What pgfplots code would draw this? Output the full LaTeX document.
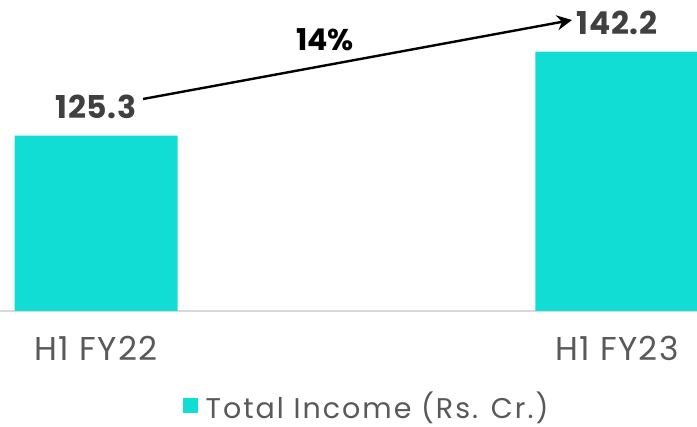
\documentclass[border=0pt]{standalone}
\usepackage{pgfplots}
\pgfplotsset{compat=1.18}
\usetikzlibrary{arrows.meta}
\usepackage{fontspec}
\setmainfont{Poppins}
\definecolor{barcyan}{RGB}{18,221,212}
\definecolor{txtgray}{RGB}{89,89,89}
\definecolor{numgray}{RGB}{64,64,64}
\definecolor{axgray}{RGB}{217,217,217}
\begin{document}
\begin{tikzpicture}
\begin{axis}[
  scale only axis,
  width=697pt, height=311pt,
  xmin=-0.1843, xmax=1.1536,
  ymin=90, ymax=152.58,
  ybar, bar width=163pt,
  axis x line*=bottom,
  hide y axis,
  x axis line style={draw=axgray, line width=1.8pt, -},
  xtick={0,1},
  xticklabels={H1 FY22, H1 FY23},
  major tick length=0pt,
  xticklabel style={font=\fontsize{33}{37}\selectfont\addfontfeatures{LetterSpace=4}, text=txtgray, anchor=base, yshift=-50pt},
  nodes near coords,
  nodes near coords style={font=\bfseries\fontsize{31.5}{35}\selectfont\addfontfeatures{LetterSpace=2}, text=numgray, anchor=base, yshift=17pt},
  point meta=explicit symbolic,
  legend style={at={(0.526,-0.305)}, anchor=center, draw=none, font=\fontsize{28.5}{32}\selectfont\addfontfeatures{LetterSpace=7}, text=txtgray, legend cell align=left, inner sep=0pt},
  legend image code/.code={\fill[barcyan] (0pt,-7.5pt) rectangle (15pt,7.5pt); \path (21pt,0pt);},
]
\addplot[fill=barcyan, draw=none] coordinates {(0,125.3) [125.3] (1,142.2) [142.2]};
\addlegendentry{Total Income (Rs. Cr.)}
\draw[black, line width=2.4pt, -{Stealth[length=15pt,width=15pt]}] (axis cs:0.0902,132.66) -- (axis cs:0.9136,148.55);
\node[font=\bfseries\fontsize{30}{34}\selectfont, text=black, anchor=base] at (axis cs:0.4395,142.5) {14\%};
\end{axis}
\pgfresetboundingbox
\path[use as bounding box] (current axis.south west) ++(0,-116pt) rectangle (current axis.north east);
\end{tikzpicture}
\end{document}
